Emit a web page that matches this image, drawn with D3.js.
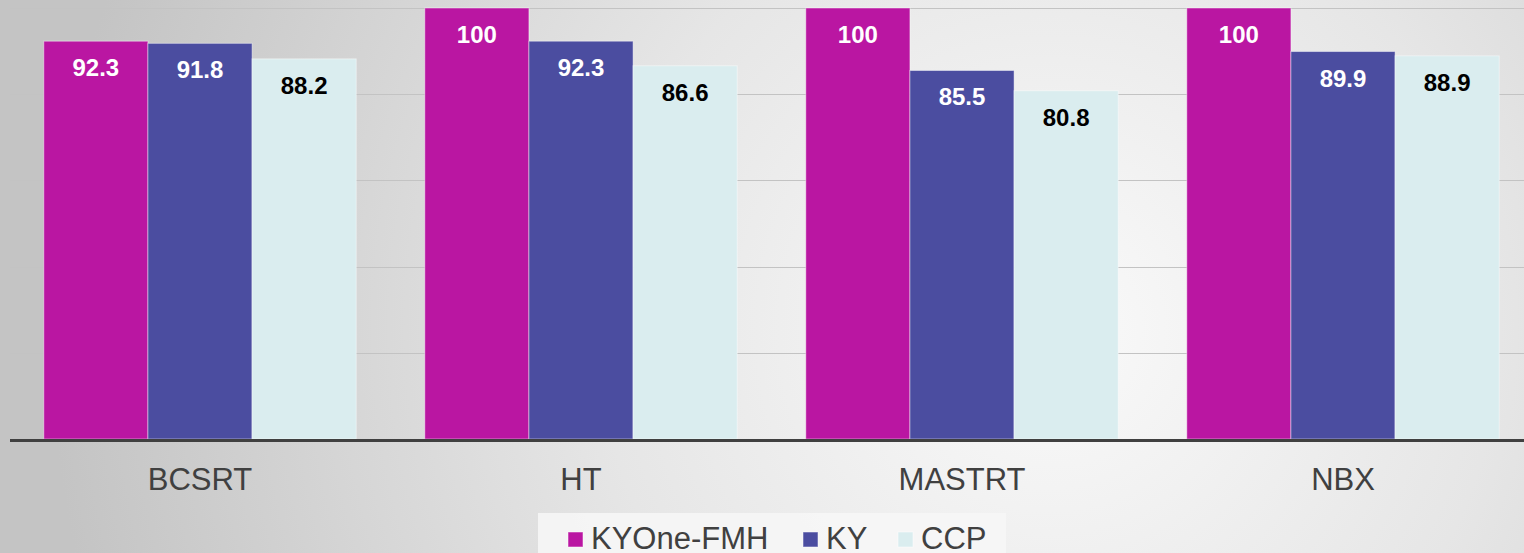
<!DOCTYPE html>
<html>
<head>
<meta charset="utf-8">
<title>Scores</title>
<style>
body { margin: 0; font-family: Arial, "Liberation Sans", sans-serif; }
svg { display: block; }
</style>
<script src="https://cdn.jsdelivr.net/npm/d3@7"></script>
</head>
<body>
<script>
// data
var categories = ["BCSRT", "HT", "MASTRT", "NBX"];
var seriesNames = ["KYOne-FMH", "KY", "CCP"];
var kyoneValues = [92.3, 100, 100, 100];
var kyValues = [91.8, 92.3, 85.5, 89.9];
var ccpValues = [88.2, 86.6, 80.8, 88.9];
var yTicks = [0, 20, 40, 60, 80, 100];

var seriesColors = ["#BA16A2", "#4B4DA0", "#DAEDEF"];
var labelColors = ["#ffffff", "#ffffff", "#000000"];
var allValues = [kyoneValues, kyValues, ccpValues];

var width = 1524, height = 553;
var plot = { left: 9.5, right: 1533.5, top: 8, bottom: 439 };

var svg = d3.select("body").append("svg")
    .attr("width", width)
    .attr("height", height);

// background gradient
var defs = svg.append("defs");
var grad = defs.append("radialGradient")
    .attr("id", "bg")
    .attr("gradientUnits", "userSpaceOnUse")
    .attr("cx", 1050).attr("cy", 330).attr("r", 1000);
grad.append("stop").attr("offset", "0%").attr("stop-color", "#fafafa");
grad.append("stop").attr("offset", "45%").attr("stop-color", "#e6e6e6");
grad.append("stop").attr("offset", "100%").attr("stop-color", "#c4c4c4");

svg.append("rect")
    .attr("width", width).attr("height", height)
    .attr("fill", "url(#bg)");

// scales
var x0 = d3.scaleBand()
    .domain(categories)
    .range([plot.left, plot.right])
    .paddingInner(0.18)
    .paddingOuter(0.09);
var x1 = d3.scaleBand()
    .domain(seriesNames)
    .range([0, x0.bandwidth()]);
var y = d3.scaleLinear()
    .domain([0, 100])
    .range([plot.bottom, plot.top]);

// gridlines
svg.append("g")
  .selectAll("line")
  .data(yTicks.slice(1))
  .enter().append("line")
    .attr("x1", 10).attr("x2", width)
    .attr("y1", function(d) { return Math.round(y(d)) + 0.5; })
    .attr("y2", function(d) { return Math.round(y(d)) + 0.5; })
    .attr("stroke", "#c3c3c3")
    .attr("stroke-width", 1.2);

// bars
var rows = categories.map(function(c, i) {
  return { cat: c, vals: seriesNames.map(function(s, j) { return { s: s, j: j, v: allValues[j][i] }; }) };
});

var groups = svg.append("g")
  .selectAll("g")
  .data(rows)
  .enter().append("g")
    .attr("transform", function(d) { return "translate(" + x0(d.cat) + ",0)"; });

groups.selectAll("rect")
  .data(function(d) { return d.vals; })
  .enter().append("rect")
    .attr("x", function(d) { return x1(d.s); })
    .attr("y", function(d) { return y(d.v); })
    .attr("width", x1.bandwidth())
    .attr("height", function(d) { return y(0) - y(d.v); })
    .attr("fill", function(d) { return seriesColors[d.j]; })
    .attr("stroke", "rgba(255,255,255,0.45)")
    .attr("stroke-width", 1);

groups.selectAll("text")
  .data(function(d) { return d.vals; })
  .enter().append("text")
    .attr("x", function(d) { return x1(d.s) + x1.bandwidth() / 2; })
    .attr("y", function(d) { return y(d.v) + 35; })
    .attr("text-anchor", "middle")
    .attr("font-size", "24px")
    .attr("font-weight", "bold")
    .attr("fill", function(d) { return labelColors[d.j]; })
    .text(function(d) { return d.v; });

// x axis
var xAxis = svg.append("g")
    .attr("transform", "translate(0," + (plot.bottom + 1.5) + ")")
    .call(d3.axisBottom(x0).tickSize(0));
xAxis.select(".domain").remove();
xAxis.append("line")
    .attr("x1", 10).attr("x2", width)
    .attr("y1", 0).attr("y2", 0)
    .attr("stroke", "#404040")
    .attr("stroke-width", 3);
xAxis.selectAll("text")
    .attr("y", 49)
    .attr("dy", 0)
    .attr("font-family", "Arial, 'Liberation Sans', sans-serif")
    .attr("font-size", "31px")
    .attr("fill", "#404040");

// legend
var legend = svg.append("g");
legend.append("rect")
    .attr("x", 538).attr("y", 513)
    .attr("width", 468).attr("height", 45)
    .attr("fill", "#f6f6f6")
    .attr("opacity", 0.9);

var legendX = [568, 803, 898];
var li = legend.selectAll("g.item")
  .data(seriesNames)
  .enter().append("g")
    .attr("class", "item")
    .attr("transform", function(d, i) { return "translate(" + legendX[i] + ",532)"; });
li.append("rect")
    .attr("width", 15).attr("height", 15)
    .attr("fill", function(d, i) { return seriesColors[i]; })
    .attr("stroke", "rgba(255,255,255,0.5)");
li.append("text")
    .attr("x", 23).attr("y", 17)
    .attr("font-size", "31px")
    .attr("fill", "#404040")
    .text(function(d) { return d; });
</script>
</body>
</html>
